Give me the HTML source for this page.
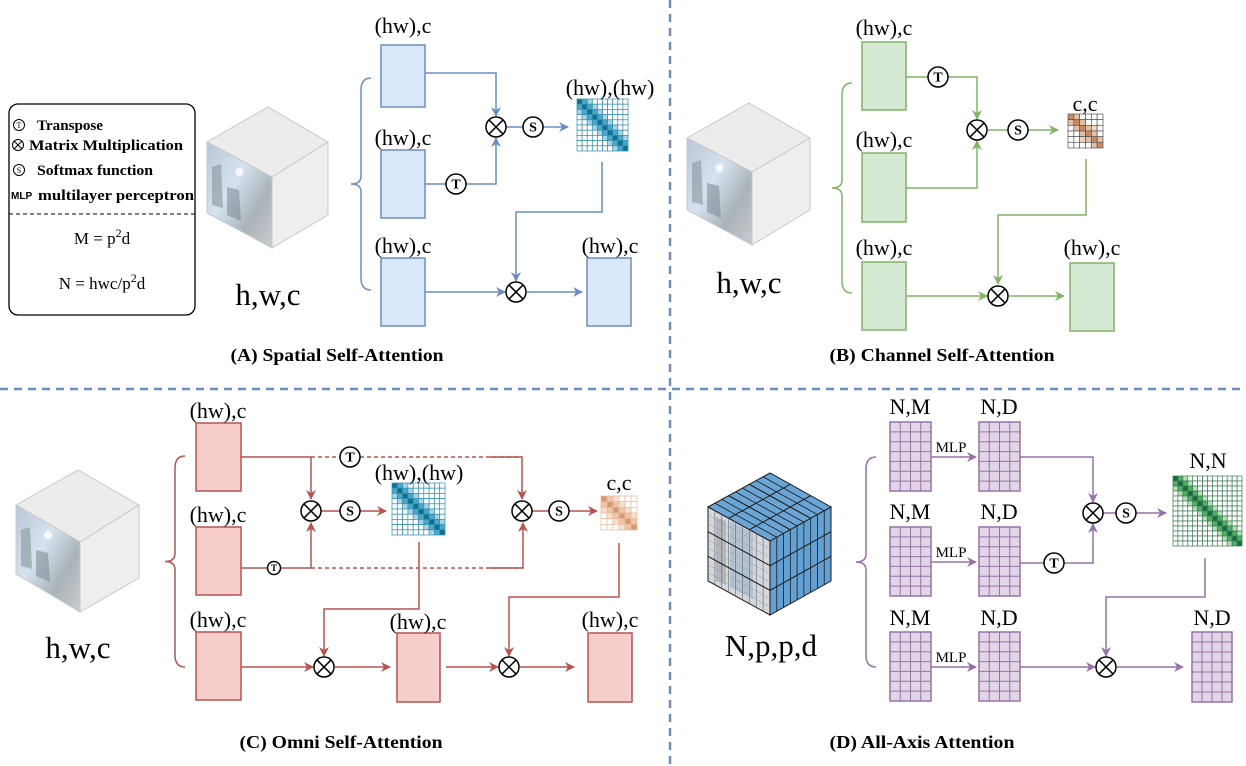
<!DOCTYPE html>
<html><head><meta charset="utf-8">
<style>
html,body{margin:0;padding:0;background:#fff;}
svg{display:block;}
text{font-family:"Liberation Serif",serif;fill:#000;}
.lb{font-size:22px;text-anchor:middle;}
.big{font-size:31px;text-anchor:middle;}
.ttl{font-size:18px;font-weight:bold;text-anchor:middle;}
.lg{font-size:15px;font-weight:bold;}
.ci{font-size:12px;font-weight:bold;text-anchor:middle;}
</style></head>
<body>
<svg id="s" width="1246" height="766" viewBox="0 0 1246 766" xmlns="http://www.w3.org/2000/svg">
<defs>
<linearGradient id="img" x1="0" y1="0" x2="1" y2="1">
<stop offset="0" stop-color="#b9c6d6"/><stop offset="0.4" stop-color="#d6e2ef"/><stop offset="0.7" stop-color="#a9b3b8"/><stop offset="1" stop-color="#c7ccd0"/>
</linearGradient>
<marker id="mb" markerWidth="10" markerHeight="10" refX="9" refY="5" orient="auto" markerUnits="userSpaceOnUse"><path d="M0,0 L10,5 L0,10 L3,5 z" fill="#6c8ebf"/></marker>
<marker id="mg" markerWidth="10" markerHeight="10" refX="9" refY="5" orient="auto" markerUnits="userSpaceOnUse"><path d="M0,0 L10,5 L0,10 L3,5 z" fill="#82b366"/></marker>
<marker id="mr" markerWidth="10" markerHeight="10" refX="9" refY="5" orient="auto" markerUnits="userSpaceOnUse"><path d="M0,0 L10,5 L0,10 L3,5 z" fill="#b85450"/></marker>
<marker id="mp" markerWidth="10" markerHeight="10" refX="9" refY="5" orient="auto" markerUnits="userSpaceOnUse"><path d="M0,0 L10,5 L0,10 L3,5 z" fill="#9673a6"/></marker>
</defs>
<line x1="670" y1="0" x2="670" y2="766" stroke="#6c8ebf" stroke-width="2.5" stroke-dasharray="8,6"/>
<line x1="0" y1="389" x2="1246" y2="389" stroke="#6c8ebf" stroke-width="2.5" stroke-dasharray="8,6"/>
<g id="shapes"></g>
<!-- legend -->
<rect x="9" y="104" width="186" height="211" rx="9" fill="none" stroke="#000" stroke-width="1.3"/>
<line x1="9" y1="214" x2="195" y2="214" stroke="#000" stroke-dasharray="4,3"/>
<circle cx="19" cy="125" r="5.5" fill="none" stroke="#000"/><text x="19" y="128" style="font-size:8px;text-anchor:middle">T</text>
<text class="lg" x="37" y="130" textLength="66" lengthAdjust="spacingAndGlyphs">Transpose</text>
<circle cx="18" cy="145" r="5.5" fill="none" stroke="#000"/><path d="M14.1,141.1 L21.9,148.9 M21.9,141.1 L14.1,148.9" stroke="#000"/>
<text class="lg" x="29" y="150" textLength="154" lengthAdjust="spacingAndGlyphs">Matrix Multiplication</text>
<circle cx="19" cy="170" r="5.5" fill="none" stroke="#000"/><text x="19" y="173" style="font-size:8px;text-anchor:middle">S</text>
<text class="lg" x="37" y="175" textLength="116" lengthAdjust="spacingAndGlyphs">Softmax function</text>
<text x="11" y="199" style="font-family:'Liberation Sans',sans-serif;font-size:10px;font-weight:bold">MLP</text>
<text class="lg" x="38" y="200" textLength="156" lengthAdjust="spacingAndGlyphs">multilayer perceptron</text>
<text x="102" y="244" style="font-size:17px;text-anchor:middle">M = p<tspan dy="-7" font-size="12">2</tspan><tspan dy="7">d</tspan></text>
<text x="102" y="289" style="font-size:17px;text-anchor:middle">N = hwc/p<tspan dy="-7" font-size="12">2</tspan><tspan dy="7">d</tspan></text>

<!-- Panel A text -->
<text class="big" x="268" y="305">h,w,c</text>
<text class="lb" x="403" y="33">(hw),c</text>
<text class="lb" x="403" y="145">(hw),c</text>
<text class="lb" x="403" y="253">(hw),c</text>
<text class="lb" x="610" y="95">(hw),(hw)</text>
<text class="lb" x="610" y="253">(hw),c</text>
<text class="ttl" x="337" y="361" textLength="213" lengthAdjust="spacingAndGlyphs">(A) Spatial Self-Attention</text>
<!-- Panel B text -->
<text class="big" x="749" y="293">h,w,c</text>
<text class="lb" x="884" y="35">(hw),c</text>
<text class="lb" x="884" y="147">(hw),c</text>
<text class="lb" x="884" y="255">(hw),c</text>
<text class="lb" x="1085" y="111">c,c</text>
<text class="lb" x="1092" y="255">(hw),c</text>
<text class="ttl" x="942" y="361" textLength="225" lengthAdjust="spacingAndGlyphs">(B) Channel Self-Attention</text>
<!-- Panel C text -->
<text class="big" x="78" y="658">h,w,c</text>
<text class="lb" x="218" y="418">(hw),c</text>
<text class="lb" x="218" y="522">(hw),c</text>
<text class="lb" x="218" y="627">(hw),c</text>
<text class="lb" x="419" y="480">(hw),(hw)</text>
<text class="lb" x="619" y="490">c,c</text>
<text class="lb" x="418" y="629">(hw),c</text>
<text class="lb" x="610" y="627">(hw),c</text>
<text class="ttl" x="341" y="748" textLength="203" lengthAdjust="spacingAndGlyphs">(C) Omni Self-Attention</text>
<!-- Panel D text -->
<text class="big" x="771" y="656">N,p,p,d</text>
<text class="lb" x="910" y="414">N,M</text><text class="lb" x="999" y="414">N,D</text>
<text class="lb" x="910" y="519">N,M</text><text class="lb" x="999" y="519">N,D</text>
<text class="lb" x="910" y="625">N,M</text><text class="lb" x="999" y="625">N,D</text>
<text x="951" y="452" style="font-size:15px;text-anchor:middle">MLP</text>
<text x="951" y="557" style="font-size:15px;text-anchor:middle">MLP</text>
<text x="951" y="662" style="font-size:15px;text-anchor:middle">MLP</text>
<text class="lb" x="1208" y="468">N,N</text>
<text class="lb" x="1212" y="625">N,D</text>
<text class="ttl" x="922" y="748" textLength="185" lengthAdjust="spacingAndGlyphs">(D) All-Axis Attention</text>
<g id="top"></g>
</svg>
<script>
var NS="http://www.w3.org/2000/svg",G=document.getElementById('shapes'),T=document.getElementById('top');
function el(n,a,p){var e=document.createElementNS(NS,n);for(var k in a)e.setAttribute(k,a[k]);(p||G).appendChild(e);return e;}
function rect(x,y,w,h,f,s){el('rect',{x:x,y:y,width:w,height:h,fill:f,stroke:s,'stroke-width':1.5});}
function path(d,c,m,dash){var a={d:d,fill:'none',stroke:c,'stroke-width':1.5};if(m)a['marker-end']='url(#'+m+')';if(dash)a['stroke-dasharray']='4,3';el('path',a);}
function otimes(x,y,r){r=r||10;el('circle',{cx:x,cy:y,r:r,fill:'#fff',stroke:'#000','stroke-width':1.5},T);var d=r*0.707;el('path',{d:'M'+(x-d)+','+(y-d)+'L'+(x+d)+','+(y+d)+'M'+(x+d)+','+(y-d)+'L'+(x-d)+','+(y+d),stroke:'#000','stroke-width':1.5},T);}
function circ(x,y,ch,r){r=r||10;el('circle',{cx:x,cy:y,r:r,fill:'#fff',stroke:'#000','stroke-width':1.5},T);var t=el('text',{x:x,y:y+r*0.45,'class':'ci'},T);t.setAttribute('style','font-size:'+(r*1.4)+'px');t.textContent=ch;}
function brace(x,y1,y2,c){var m=(y1+y2)/2;path('M'+(x+20)+','+y1+' Q'+(x+10)+','+y1+' '+(x+10)+','+(y1+12)+' L'+(x+10)+','+(m-8)+' Q'+(x+10)+','+m+' '+x+','+m+' Q'+(x+10)+','+m+' '+(x+10)+','+(m+8)+' L'+(x+10)+','+(y2-12)+' Q'+(x+10)+','+y2+' '+(x+20)+','+y2,c);}
function matrix(x,y,w,h,n,fn,grid){var cw=w/n,ch=h/n;for(var i=0;i<n;i++)for(var j=0;j<n;j++){el('rect',{x:x+j*cw,y:y+i*ch,width:cw,height:ch,fill:fn(i,j),stroke:grid,'stroke-width':0.7});}}
function pgrid(x,y,w,h){rect(x,y,w,h,'#e1d5e7','#9673a6');var cols=4,rows=7;for(var i=1;i<cols;i++)el('line',{x1:x+i*w/cols,y1:y,x2:x+i*w/cols,y2:y+h,stroke:'#9673a6','stroke-width':1});for(var j=1;j<rows;j++)el('line',{x1:x,y1:y+j*h/rows,x2:x+w,y2:y+j*h/rows,stroke:'#9673a6','stroke-width':1});}
function imgcube(fl,ft,fr,frt,bot,rb,lb,top,rt){
 el('polygon',{points:fl+','+ft+' '+top[0]+','+top[1]+' '+rt[0]+','+rt[1]+' '+fr+','+frt,fill:'#ececec',stroke:'#c8c8c8'});
 el('polygon',{points:fr+','+frt+' '+rt[0]+','+rt[1]+' '+rt[0]+','+rb+' '+fr+','+bot,fill:'#eeeeee',stroke:'#c8c8c8'});
 el('polygon',{points:fl+','+ft+' '+fr+','+frt+' '+fr+','+bot+' '+fl+','+lb,fill:'url(#img)',stroke:'#c8c8c8'});
 el('polygon',{points:(fl+5)+','+(ft+25)+' '+(fl+14)+','+(ft+22)+' '+(fl+16)+','+(lb-5)+' '+(fl+5)+','+(lb-8),fill:'#8a949c',opacity:0.6});
 el('polygon',{points:(fl+20)+','+(ft+45)+' '+(fl+32)+','+(ft+48)+' '+(fl+34)+','+(lb+8)+' '+(fl+20)+','+(lb+2),fill:'#7d878f',opacity:0.55});
 el('circle',{cx:fl+(fr-fl)*0.5,cy:ft+30,r:4,fill:'#fff',opacity:0.8});
}
// Panel A
imgcube(207,142,272,177,248,215,213,[268,107],[328,142]);
brace(351,78,290,'#6c8ebf');
rect(381,45,44,62,'#dae8fc','#6c8ebf');rect(381,150,44,68,'#dae8fc','#6c8ebf');rect(381,258,44,68,'#dae8fc','#6c8ebf');
path('M425,73 H496 V116','#6c8ebf','mb');
path('M425,184 H496 V138','#6c8ebf','mb');
path('M506,127 H568','#6c8ebf','mb');
path('M602,162 V212 H516 V281','#6c8ebf','mb');
path('M425,292 H505','#6c8ebf','mb');
path('M527,292 H582','#6c8ebf','mb');
rect(587,258,44,68,'#dae8fc','#6c8ebf');
matrix(577,99,51,52,10,function(i,j){var d=Math.abs(i-j);return d==0?'#106f8e':d==1?'#4da6c6':d==2?'#a9d3e4':'#fff';},'#2f8fb0');
otimes(496,127);circ(533,127,'S');circ(456,184,'T');otimes(516,292);
// Panel B
imgcube(687,138,752,172,245,210,210,[749,103],[810,138]);
brace(832,83,293,'#82b366');
rect(862,42,44,68,'#d5e8d4','#82b366');rect(862,153,44,69,'#d5e8d4','#82b366');rect(862,262,44,68,'#d5e8d4','#82b366');
path('M906,77 H977 V119','#82b366','mg');
path('M906,188 H977 V141','#82b366','mg');
path('M988,130 H1058','#82b366','mg');
path('M1086,159 V215 H998 V284','#82b366','mg');
path('M906,296 H987','#82b366','mg');
path('M1009,296 H1064','#82b366','mg');
rect(1070,263,44,68,'#d5e8d4','#82b366');
matrix(1068,114,35,34,6,function(i,j){var d=Math.abs(i-j);return d==0?'#c78a62':d==1?'#e6bfa2':(d==2&&(i+j)%3==0)?'#f0d6c2':'#fff';},'#555');
otimes(977,130);circ(1018,130,'S');circ(938,77,'T');otimes(998,296);
// Panel C
imgcube(16,505,80,542,612,578,574,[78,470],[139,505]);
brace(165,456,667,'#b85450');
rect(196,423,45,68,'#f8cecc','#b85450');rect(196,527,45,68,'#f8cecc','#b85450');rect(196,632,45,68,'#f8cecc','#b85450');
path('M241,457 H311 V499','#b85450','mr');
path('M311,457 H522','#b85450',null,true);
path('M490,457 H522 V499','#b85450','mr');
path('M241,568 H311 V523','#b85450','mr');
path('M311,568 H523','#b85450',null,true);
path('M490,568 H523 V523','#b85450','mr');
path('M321,511 H386','#b85450','mr');
path('M532,511 H597','#b85450','mr');
path('M419,542 V609 H324 V656','#b85450','mr');
path('M241,667 H313','#b85450','mr');
path('M335,667 H390','#b85450','mr');
rect(397,633,43,69,'#f8cecc','#b85450');
path('M446,667 H498','#b85450','mr');
path('M619,543 V597 H509 V656','#b85450','mr');
path('M520,667 H574','#b85450','mr');
rect(588,633,44,69,'#f8cecc','#b85450');
matrix(392,483,53,52,10,function(i,j){var d=Math.abs(i-j);return d==0?'#106f8e':d==1?'#4da6c6':d==2?'#a9d3e4':'#fff';},'#2f8fb0');
matrix(601,496,36,34,6,function(i,j){var d=Math.abs(i-j);return d==0?'#d59a74':d==1?'#ecc5a9':d==2?'#f7e0cf':'#fff';},'#e8b89a');
otimes(311,511);circ(350,511,'S');circ(350,457,'T');circ(274,568,'T',6.5);otimes(522,511);circ(559,511,'S');otimes(324,667);otimes(509,667);
// Panel D cube
(function(){var L=708,C=770,R=831,yt=473,ym=507,yc=541,yb=615,ylb=581;
 el('polygon',{points:L+','+ym+' '+C+','+yt+' '+R+','+ym+' '+C+','+yc,fill:'#6aa5d6',stroke:'#1a1a1a','stroke-width':1});
 el('polygon',{points:C+','+yc+' '+R+','+ym+' '+R+','+ylb+' '+C+','+yb,fill:'#63a0d4',stroke:'#1a1a1a','stroke-width':1});
 el('polygon',{points:L+','+ym+' '+C+','+yc+' '+C+','+yb+' '+L+','+ylb,fill:'#d4d8dc',stroke:'#1a1a1a','stroke-width':1});
 el('polygon',{points:(L+22)+','+(ym+14)+' '+(L+45)+','+(ym+26)+' '+(L+45)+','+(ylb+18)+' '+(L+22)+','+(ylb+6),fill:'#a4b8cc',opacity:0.7});
 el('polygon',{points:(L+8)+','+(ym+10)+' '+(L+18)+','+(ym+14)+' '+(L+18)+','+(ylb+4)+' '+(L+8)+','+(ylb),fill:'#9aa0a6',opacity:0.6});
 var n=9;for(var i=1;i<n;i++){var t=i/n;
  el('line',{x1:C+(R-C)*t,y1:yc+(ym-yc)*t,x2:C+(R-C)*t,y2:yb+(ylb-yb)*t,stroke:'#1a1a1a','stroke-width':0.8});
  el('line',{x1:L+(C-L)*t,y1:ym+(yc-ym)*t,x2:L+(C-L)*t,y2:ylb+(yb-ylb)*t,stroke:'#666','stroke-width':0.6});
  el('line',{x1:L+(C-L)*t,y1:ym+(yt-ym)*t,x2:C+(R-C)*t,y2:yc+(ym-yc)*t,stroke:'#1a1a1a','stroke-width':0.8});
 }
 for(var j=1;j<9;j++){var v=j/9;el('line',{x1:L,y1:ym+(ylb-ym)*v,x2:C,y2:yc+(yb-yc)*v,stroke:'#999','stroke-width':0.5});}
 for(var k=1;k<3;k++){var u=k/3;
  el('line',{x1:C,y1:yc+(yb-yc)*u,x2:R,y2:ym+(ylb-ym)*u,stroke:'#1a1a1a','stroke-width':1});
  el('line',{x1:L,y1:ym+(ylb-ym)*u,x2:C,y2:yc+(yb-yc)*u,stroke:'#1a1a1a','stroke-width':1});
  el('line',{x1:L+(C-L)*u,y1:ym+(yc-ym)*u,x2:C+(R-C)*u,y2:yt+(ym-yt)*u,stroke:'#1a1a1a','stroke-width':1});
  el('line',{x1:L+(C-L)*u,y1:ym+(yt-ym)*u,x2:C+(R-C)*u,y2:yc+(ym-yc)*u,stroke:'#1a1a1a','stroke-width':1});
 }
})();
brace(856,457,667,'#9673a6');
[422,527,632].forEach(function(y){pgrid(890,y,41,69);pgrid(979,y,41,69);path('M931,'+(y+35)+' H976','#9673a6','mp');});
path('M1020,457 H1093 V502','#9673a6','mp');
path('M1020,563 H1093 V524','#9673a6','mp');
path('M1103,513 H1166','#9673a6','mp');
path('M1205,558 V597 H1106 V656','#9673a6','mp');
path('M1020,667 H1095','#9673a6','mp');
path('M1117,667 H1183','#9673a6','mp');
pgrid(1192,632,40,70);
matrix(1173,476,69,70,14,function(i,j){var d=Math.abs(i-j);return d==0?'#1b6b3a':d==1?'#4caf6a':d==2?'#b7e0b0':'#fff';},'#3d7a55');
otimes(1093,513);circ(1126,513,'S');circ(1054,563,'T');otimes(1106,667);
</script>
</body></html>
